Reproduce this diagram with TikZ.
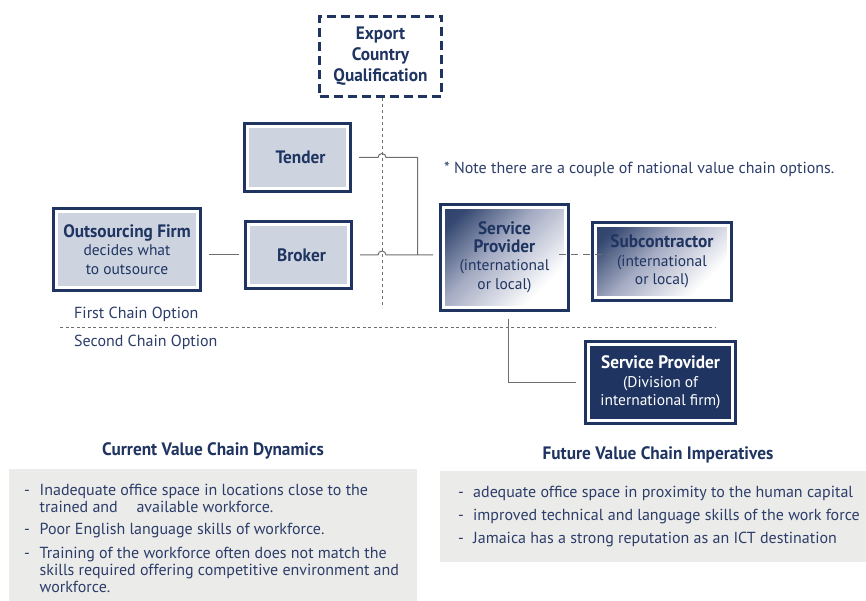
\documentclass[tikz,border=0pt]{standalone}
\usepackage{fontspec}
\setmainfont{PT Sans}[BoldFeatures={FakeStretch=0.96}]
\usetikzlibrary{calc}
\definecolor{navy}{HTML}{1F3461}
\definecolor{txtnavy}{HTML}{2C3D69}
\definecolor{boxfill}{HTML}{CDD4E0}
\definecolor{panelc}{HTML}{EBEBE9}
\definecolor{connc}{HTML}{6E6E6E}
\definecolor{gmid}{HTML}{A3AAC2}
\pgfdeclarehorizontalshading{spgrad}{100bp}{color(0bp)=(navy); color(22bp)=(navy!90); color(44bp)=(gmid); color(72bp)=(white); color(100bp)=(white)}
\begin{document}
\begin{tikzpicture}[x=1pt,y=-1pt,
  fbox/.style={rectangle, fill=boxfill, draw=white, line width=3, preaction={draw=navy, line width=9}, inner sep=0, align=center, text=navy},
  gbox/.style={rectangle, shade, shading=spgrad, shading angle=-45, draw=white, line width=3, preaction={draw=navy, line width=9}, inner sep=0, align=center, text=navy},
  dkbox/.style={rectangle, fill=navy, draw=white, line width=3, preaction={draw=navy, line width=9}, inner sep=0, align=center, text=white},
  expbox/.style={rectangle, draw=navy, fill=white, line width=3, dash pattern=on 9 off 5, inner sep=0, align=center, text=navy},
  conn/.style={draw=connc, line width=1},
  vdash/.style={draw=connc, line width=0.9, dash pattern=on 3 off 3},
  boxfont/.style={font=\fontsize{15.5}{18.5}\selectfont},
  plain/.style={text=txtnavy, inner sep=0, font=\fontsize{16}{17}\selectfont},
  ttl/.style={text=navy, inner sep=0, font=\fontsize{18}{19}\bfseries\selectfont}
]
\newcommand\bxttl{\fontsize{18}{20.5}\bfseries\selectfont}
\useasboundingbox (0,0) rectangle (866,601);
\fill[white] (0,0) rectangle (866,601);

% panels
\fill[panelc] (9,469) rectangle (417,601);
\fill[panelc] (440,471) rectangle (866,562);

% boxes
\node[expbox, minimum width=122, minimum height=80, font=\fontsize{18}{21}\bfseries\selectfont] (exp) at (380.5,56.5) {Export\\Country\\Qualification};
\node[fbox, minimum width=100, minimum height=62, font=\bxttl] (tender) at (297.5,157.5) {\hspace*{6pt}Tender};
\node[fbox, minimum width=100, minimum height=61, font=\bxttl] (broker) at (298.5,255) {\hspace*{6pt}Broker};
\node[fbox, minimum width=141, minimum height=76, boxfont] (out) at (127,249.5) {{\bxttl Outsourcing Firm}\\decides what\\to outsource};
\node[gbox, minimum width=122, minimum height=100, boxfont] (sp) at (504.5,257.5) {{\bxttl Service}\\[-1pt]{\bxttl Provider}\\(international\\or local)};
\node[gbox, minimum width=133, minimum height=72, boxfont] (sub) at (662,261.5) {{\bxttl Subcontractor}\\(international\\or local)};
\node[dkbox, minimum width=144, minimum height=76, boxfont] (sp2) at (660.5,382.5) {{\bxttl Service Provider}\\(Division of\\international firm)};

% coordinates
\coordinate (vtop) at ([xshift=1.5]exp.south);
\coordinate (vbot) at (vtop |- 0,308);
\coordinate (junc) at (417.5,255);

% dashed vertical from export box
\draw[vdash] (vtop) -- (vbot);

% tender line with hop
\draw[conn] ([xshift=10]tender.east) -- ([xshift=-4]vtop |- tender.east)
  arc[start angle=180, end angle=360, radius=4] -- (junc |- tender.east) -- (junc);
% broker line with hop
\draw[conn] ([xshift=10]broker.east) -- ([xshift=-4]vtop |- broker.east)
  arc[start angle=180, end angle=360, radius=4] -- ([xshift=-9]sp.west |- broker.east);
% outsourcing to broker
\draw[conn] ([xshift=10]out.east |- broker.west) -- ([xshift=-8]broker.west);
% service provider to subcontractor
\draw[conn, dash pattern=on 7 off 5] ([xshift=-8]sp.east |- broker.east) -- ([xshift=17]sub.west |- broker.east);
% service provider to division
\draw[conn] ([xshift=3.5,yshift=-9.5]sp.south) |- ([xshift=-11]sp2.west);

% chain options
\node[plain, anchor=base west] (first) at (74,318.5) {First Chain Option};
\draw[vdash, dash pattern=on 3 off 2.5] (60,327) coordinate (dl) -- (715,327) coordinate (dr);
\node[plain, anchor=base west] (second) at (74,346.5) {Second Chain Option};

% note
\node[plain, anchor=base west] (note) at (444,173.5) {* Note there are a couple of national value chain options.};

% titles
\node[ttl, anchor=base] (curt) at (213,455) {Current Value Chain Dynamics};
\node[ttl, anchor=base] (futt) at (658,459) {Future Value Chain Imperatives};

% left list (base = last line)
\node[plain, anchor=base west] (ld1) at (24,495.5) {-};
\node[plain, anchor=base west, align=left] (li1) at (39.5,512) {Inadequate office space in locations close to the\\trained and\hspace{0.9em} available workforce.};
\node[plain, anchor=base west] (ld2) at (24,534.5) {-};
\node[plain, anchor=base west] (li2) at (39.5,534.5) {Poor English language skills of workforce.};
\node[plain, anchor=base west] (ld3) at (24,558) {-};
\node[plain, anchor=base west, align=left] (li3) at (39.5,592.5) {Training of the workforce often does not match the\\skills required offering competitive environment and\\workforce.};

% right list
\node[plain, anchor=base west] (rd1) at (458,497.5) {-};
\node[plain, anchor=base west] (ri1) at (473,497.5) {adequate office space in proximity to the human capital};
\node[plain, anchor=base west] (rd2) at (458,520) {-};
\node[plain, anchor=base west] (ri2) at (473,520) {improved technical and language skills of the work force};
\node[plain, anchor=base west] (rd3) at (458,543) {-};
\node[plain, anchor=base west] (ri3) at (473,543) {Jamaica has a strong reputation as an ICT destination};
\end{tikzpicture}
\end{document}
